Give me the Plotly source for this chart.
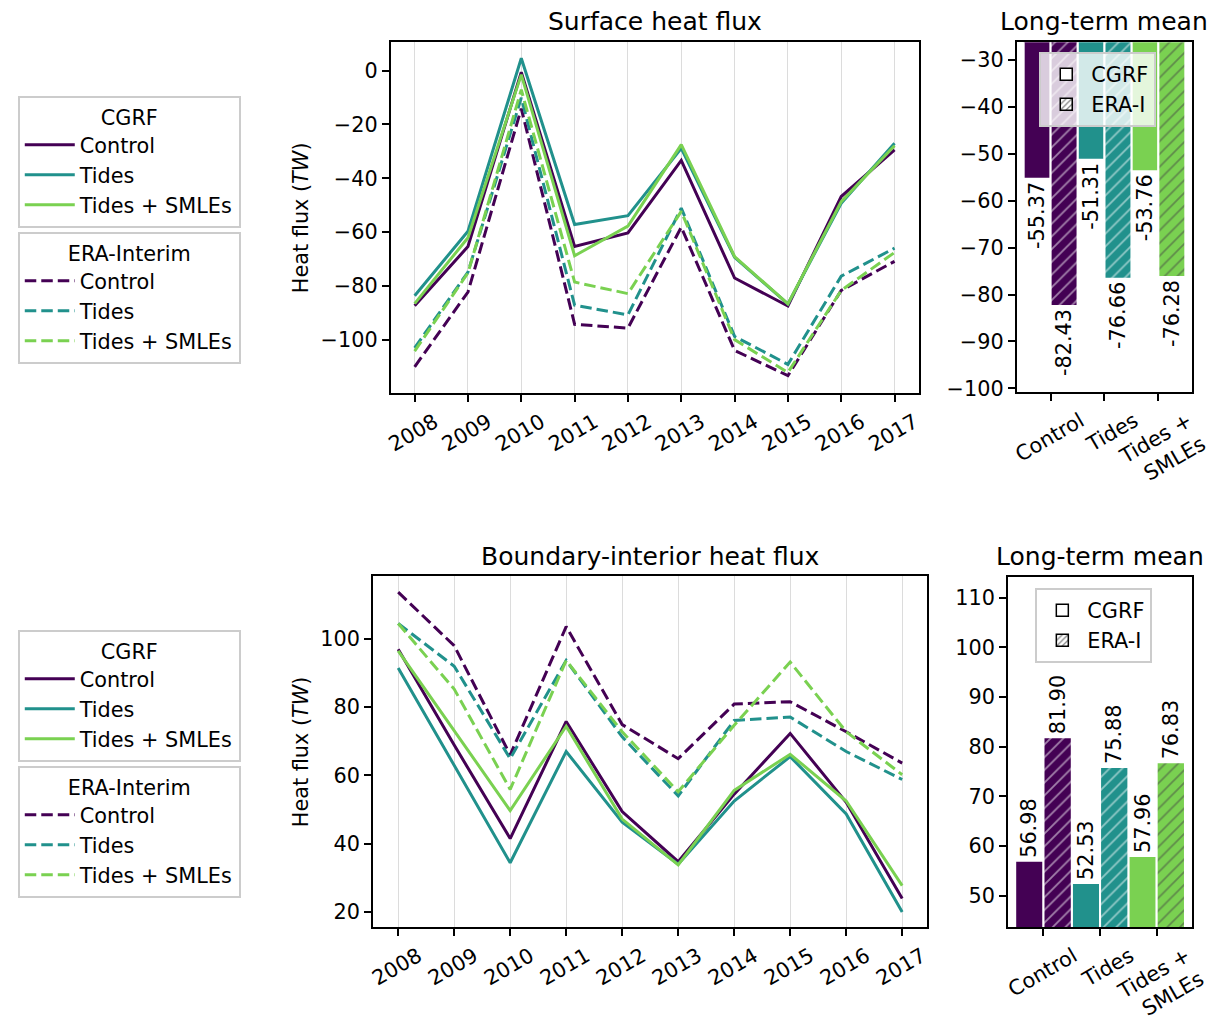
import plotly.graph_objects as go

# ---------------- data ----------------
years = [2008, 2009, 2010, 2011, 2012, 2013, 2014, 2015, 2016, 2017]
run_names = ["Control", "Tides", "Tides + SMLEs"]
bar_categories = ["Control", "Tides", "Tides +<br>SMLEs"]
colors = ["#440154", "#21918c", "#7ad151"]

# Surface heat flux (TW)
surf_cgrf_control = [-87.4, -65.4, -0.6, -65.4, -60.3, -33.4, -77.1, -87.5, -46.8, -29.5]
surf_cgrf_tides = [-83.7, -59.7, 4.6, -57.2, -53.9, -28.9, -69.4, -86.7, -49.3, -27.0]
surf_cgrf_smle = [-86.6, -62.1, -1.5, -68.8, -57.8, -27.5, -69.1, -86.7, -48.7, -27.9]
surf_era_control = [-110.1, -82.3, -14.1, -94.3, -95.7, -58.2, -104.0, -113.4, -81.7, -70.9]
surf_era_tides = [-103.1, -74.9, -10.1, -87.2, -90.8, -51.1, -98.8, -109.2, -76.4, -66.0]
surf_era_smle = [-104.3, -75.2, -7.1, -78.6, -82.9, -52.3, -100.0, -112.2, -81.7, -67.6]

# Boundary-interior heat flux (TW)
bnd_cgrf_control = [97.0, 68.9, 41.5, 75.8, 49.4, 34.7, 54.5, 72.3, 52.1, 23.9]
bnd_cgrf_tides = [91.5, 63.1, 34.4, 67.0, 46.3, 34.0, 52.5, 65.5, 48.7, 20.0]
bnd_cgrf_smle = [96.5, 73.2, 49.7, 74.4, 47.2, 33.8, 55.6, 66.2, 52.5, 27.7]
bnd_era_control = [113.7, 98.0, 66.0, 103.6, 74.9, 64.9, 80.9, 81.6, 72.8, 63.6]
bnd_era_tides = [104.5, 92.0, 64.9, 93.7, 71.3, 54.0, 76.1, 77.1, 67.0, 58.8]
bnd_era_smle = [104.5, 85.3, 55.9, 93.7, 72.8, 55.2, 74.7, 93.2, 72.8, 60.2]

# Long-term means
surf_mean_cgrf = [-55.37, -51.31, -53.76]
surf_mean_era = [-82.43, -76.66, -76.28]
bnd_mean_cgrf = [56.98, 52.53, 57.96]
bnd_mean_era = [81.90, 75.88, 76.83]

# ---------------- figure ----------------
W, H = 1226, 1027
FONT = "DejaVu Sans"
FS = 20.8
TFS = 25
DASH = "11.5px,5px"

fig = go.Figure()

def px_x(v):
    return v / W

def px_y(v):
    return 1 - v / H

surf_cgrf = [surf_cgrf_control, surf_cgrf_tides, surf_cgrf_smle]
surf_era = [surf_era_control, surf_era_tides, surf_era_smle]
bnd_cgrf = [bnd_cgrf_control, bnd_cgrf_tides, bnd_cgrf_smle]
bnd_era = [bnd_era_control, bnd_era_tides, bnd_era_smle]

for panel, (cg, er, xa, ya, lg1, lg2) in enumerate([
        (surf_cgrf, surf_era, "x", "y", "legend", "legend2"),
        (bnd_cgrf, bnd_era, "x3", "y3", "legend3", "legend4")]):
    for i, name in enumerate(run_names):
        fig.add_trace(go.Scatter(
            x=years, y=cg[i], mode="lines", name=name,
            line=dict(color=colors[i], width=3),
            xaxis=xa, yaxis=ya, legend=lg1, showlegend=True))
    for i, name in enumerate(run_names):
        fig.add_trace(go.Scatter(
            x=years, y=er[i], mode="lines", name=name,
            line=dict(color=colors[i], width=3, dash=DASH),
            xaxis=xa, yaxis=ya, legend=lg2, showlegend=True))

# bars
for (cg, er, xa, ya, lg) in [
        (surf_mean_cgrf, surf_mean_era, "x2", "y2", "legend5"),
        (bnd_mean_cgrf, bnd_mean_era, "x4", "y4", "legend6")]:
    fig.add_trace(go.Bar(
        x=bar_categories, y=cg, width=0.5, offset=-0.5,
        marker=dict(color=colors, line=dict(color="white", width=2)),
        text=[f"{v:.2f}" for v in cg], textposition="outside", textangle=-90,
        textfont=dict(size=FS, color="black", family=FONT),
        constraintext="none", cliponaxis=False,
        xaxis=xa, yaxis=ya, showlegend=False, name="CGRF"))
    fig.add_trace(go.Bar(
        x=bar_categories, y=er, width=0.5, offset=0.0,
        marker=dict(color=colors, line=dict(color="white", width=2),
                    pattern=dict(shape="/", fgcolor="white", size=9, solidity=0.2)),
        text=[f"{v:.2f}" for v in er], textposition="outside", textangle=-90,
        textfont=dict(size=FS, color="black", family=FONT),
        constraintext="none", cliponaxis=False,
        xaxis=xa, yaxis=ya, showlegend=False, name="ERA-I"))
    # legend keys
    fig.add_trace(go.Bar(
        x=[bar_categories[0]], y=[None], name="CGRF", legend=lg,
        marker=dict(color="white", line=dict(color="black", width=1.5)),
        xaxis=xa, yaxis=ya, showlegend=True))
    fig.add_trace(go.Bar(
        x=[bar_categories[0]], y=[None], name="ERA-I", legend=lg,
        marker=dict(color="white", line=dict(color="black", width=1.5),
                    pattern=dict(shape="/", fgcolor="black", size=5, solidity=0.3)),
        xaxis=xa, yaxis=ya, showlegend=True))

axis_common = dict(
    showline=True, linecolor="black", linewidth=1.6, mirror=True,
    ticks="outside", ticklen=7, tickwidth=1.6, tickcolor="black",
    tickfont=dict(size=FS, family=FONT, color="black"),
    zeroline=False,
)

line_x = dict(axis_common, showgrid=True, gridcolor="#dcdcdc", gridwidth=1,
              tickmode="array", tickvals=years, ticktext=[str(y) for y in years],
              tickangle=-30, range=[2007.55, 2017.45], ticklabelshift=20)
bar_x = dict(axis_common, showgrid=False, tickangle=-30, range=[-0.63, 2.63],
             type="category", ticklabelshift=30)

fig.update_layout(
    width=W, height=H,
    margin=dict(l=0, r=0, t=0, b=0),
    paper_bgcolor="white", plot_bgcolor="white",
    font=dict(family=FONT, size=FS, color="black"),
    barmode="overlay",
    xaxis=dict(line_x, domain=[px_x(392), px_x(930)], anchor="y"),
    yaxis=dict(axis_common, showgrid=False, domain=[px_y(399), px_y(43)],
               range=[-119.9, 10.5], dtick=20, anchor="x"),
    xaxis2=dict(bar_x, domain=[px_x(1030), px_x(1209)], anchor="y2"),
    yaxis2=dict(axis_common, showgrid=False, domain=[px_y(398), px_y(43)],
                range=[-100.8, -26.3], dtick=10, anchor="x2"),
    xaxis3=dict(line_x, domain=[px_x(374), px_x(939)], anchor="y3"),
    yaxis3=dict(axis_common, showgrid=False, domain=[px_y(941), px_y(585)],
                range=[15.5, 118.3], dtick=20, anchor="x3"),
    xaxis4=dict(bar_x, domain=[px_x(1021), px_x(1209)], anchor="y4"),
    yaxis4=dict(axis_common, showgrid=False, domain=[px_y(941), px_y(586)],
                range=[43.6, 114.1], dtick=10, anchor="x4"),
)

leg_common = dict(xanchor="left", yanchor="top", bordercolor="#cccccc", borderwidth=2,
                  bgcolor="rgba(255,255,255,0.8)", font=dict(size=FS, family=FONT, color="black"),
                  tracegroupgap=0)
line_leg = dict(leg_common, itemwidth=50)
bar_leg = dict(leg_common, itemwidth=40)
fig.update_layout(
    legend=dict(line_leg, x=px_x(12), y=px_y(97),
                title=dict(text="CGRF", side="top center", font=dict(size=FS))),
    legend2=dict(line_leg, x=px_x(12), y=px_y(235),
                 title=dict(text="ERA-Interim", side="top center", font=dict(size=FS))),
    legend3=dict(line_leg, x=px_x(12), y=px_y(639),
                 title=dict(text="CGRF", side="top center", font=dict(size=FS))),
    legend4=dict(line_leg, x=px_x(12), y=px_y(777),
                 title=dict(text="ERA-Interim", side="top center", font=dict(size=FS))),
    legend5=dict(bar_leg, x=px_x(1053), y=px_y(53)),
    legend6=dict(bar_leg, x=px_x(1049), y=px_y(597)),
)

annots = [
    dict(text="Surface heat flux", x=px_x(661), y=px_y(22)),
    dict(text="Long-term mean", x=px_x(1119), y=px_y(22)),
    dict(text="Boundary-interior heat flux", x=px_x(656), y=px_y(565)),
    dict(text="Long-term mean", x=px_x(1115), y=px_y(565)),
]
for a in annots:
    fig.add_annotation(xref="paper", yref="paper", showarrow=False,
                       xanchor="center", yanchor="middle",
                       font=dict(size=TFS, family=FONT, color="black"), **a)
for yc in [221, 763]:
    fig.add_annotation(xref="paper", yref="paper", showarrow=False,
                       text="Heat flux (<i>TW</i>)", textangle=-90,
                       x=px_x(300), y=px_y(yc), xanchor="center", yanchor="middle",
                       font=dict(size=FS, family=FONT, color="black"))

fig.write_html("out.html")
